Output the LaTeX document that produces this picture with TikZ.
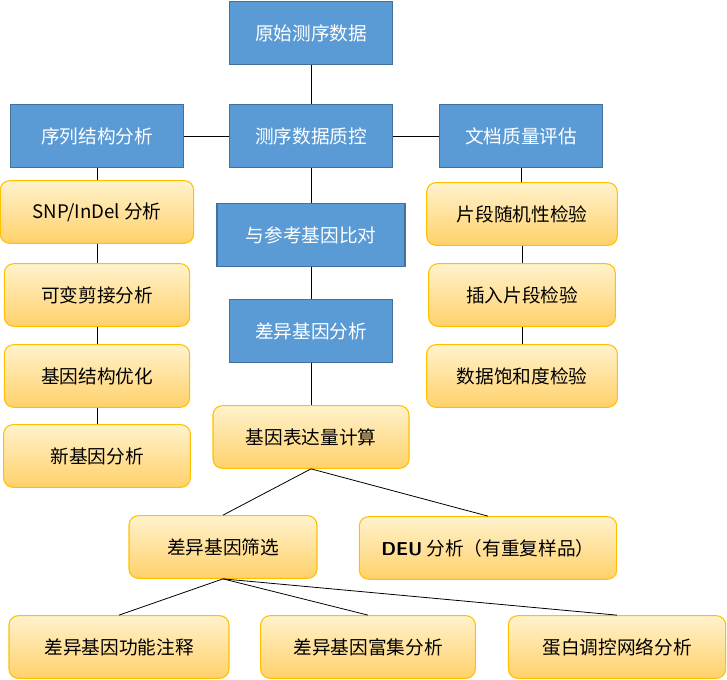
\documentclass[tikz,border=0pt]{standalone}
\usepackage{fontspec}
\setmainfont{Liberation Serif}
\newfontfamily\cjk{Noto Sans CJK SC}
\definecolor{bluef}{HTML}{5B9BD5}
\definecolor{blued}{HTML}{41719C}
\definecolor{orf1}{HTML}{FFF2CC}
\definecolor{orf2}{HTML}{FFD16A}
\definecolor{ord}{HTML}{FFC000}
\begin{document}
\begin{tikzpicture}[x=0.75pt,y=-0.75pt,
 bbox/.style={draw=blued,line width=1pt,fill=bluef,text=white,minimum height=47pt,inner sep=0pt,font=\cjk\fontsize{14}{16}\selectfont},
 obox/.style={draw=ord,line width=0.8pt,rounded corners=7pt,top color=orf1,bottom color=orf2,minimum height=47pt,inner sep=0pt,font=\cjk\fontsize{14}{16}\selectfont},
 ln/.style={draw=black,line width=0.6pt}]
\useasboundingbox (0,0) rectangle (727,680);
\node[bbox,minimum width=122pt] (raw) at (311,33) {原始测序数据};
\node[bbox,minimum width=130pt] (seq) at (97,136) {序列结构分析};
\node[bbox,minimum width=122pt] (qc) at (311,136) {测序数据质控};
\node[bbox,minimum width=122pt] (doc) at (521,136) {文档质量评估};
\node[bbox,minimum width=141pt] (ali) at (311,235) {与参考基因比对};
\node[bbox,minimum width=122pt] (deg) at (311,331) {差异基因分析};
\node[obox,minimum width=145pt] (snp) at (97,212) {{\fontsize{14}{16}\selectfont SNP/InDel} 分析};
\node[obox,minimum width=139pt] (alt) at (97,295) {可变剪接分析};
\node[obox,minimum width=139pt] (str) at (97,376) {基因结构优化};
\node[obox,minimum width=140pt] (new) at (97,456) {新基因分析};
\node[obox,minimum width=143pt] (r1) at (522,214) {片段随机性检验};
\node[obox,minimum width=140pt] (r2) at (522,295) {插入片段检验};
\node[obox,minimum width=143pt] (r3) at (522,376) {数据饱和度检验};
\node[obox,minimum width=147pt] (exp) at (311,437) {基因表达量计算};
\node[obox,minimum width=141pt] (sel) at (223,547) {差异基因筛选};
\node[obox,minimum width=193pt] (deu) at (488,548) {{\sffamily\bfseries DEU} 分析（有重复样品）};
\node[obox,minimum width=165pt] (b1) at (119,647) {差异基因功能注释};
\node[obox,minimum width=161pt] (b2) at (368,647) {差异基因富集分析};
\node[obox,minimum width=163pt] (b3) at (617,647) {蛋白调控网络分析};
\draw[ln] (raw) -- (qc);
\draw[ln] (qc) -- (seq);
\draw[ln] (qc) -- (doc);
\draw[ln] (qc) -- (ali);
\draw[ln] (ali) -- (deg);
\draw[ln] (deg) -- (exp);
\draw[ln] (seq) -- (snp);
\draw[ln] (snp) -- (alt);
\draw[ln] (alt) -- (str);
\draw[ln] (str) -- (new);
\draw[ln] (doc) -- (r1);
\draw[ln] (r1) -- (r2);
\draw[ln] (r2) -- (r3);
\draw[ln] (exp.south) -- (sel.north);
\draw[ln] (exp.south) -- (deu.north);
\draw[ln] (sel.south) -- (b1.north);
\draw[ln] (sel.south) -- (b2.north);
\draw[ln] (sel.south) -- (b3.north);
\end{tikzpicture}
\end{document}
